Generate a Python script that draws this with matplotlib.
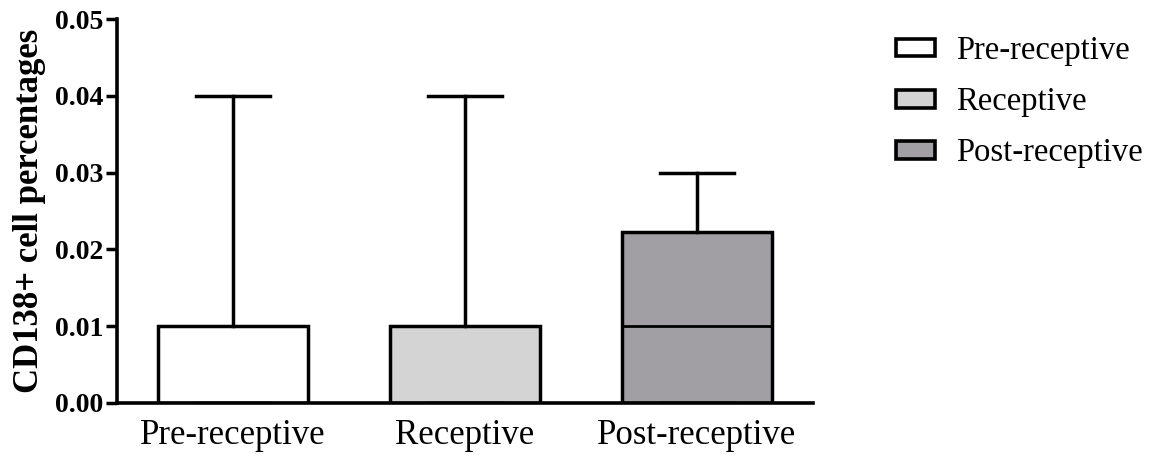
import matplotlib
matplotlib.use("Agg")
import matplotlib.pyplot as plt
from matplotlib.patches import Patch

# box-plot summary values
groups = ["Pre-receptive", "Receptive", "Post-receptive"]
q1 = [0.0, 0.0, 0.0]
med = [0.01, 0.01, 0.01]
q3 = [0.01, 0.01, 0.0222]
whis_lo = [0.0, 0.0, 0.0]
whis_hi = [0.04, 0.04, 0.03]
colors = ["#ffffff", "#d4d4d4", "#a19fa4"]
y_ticks = [0.00, 0.01, 0.02, 0.03, 0.04, 0.05]

plt.rcParams['font.family'] = ['Liberation Serif', 'DejaVu Serif']

fig = plt.figure(figsize=(11.58, 4.59), dpi=100)
ax = fig.add_axes([0.101, 0.1227, 0.601, 0.8353])

stats = []
for i, g in enumerate(groups):
    stats.append(dict(label=g, q1=q1[i], med=med[i], q3=q3[i],
                      whislo=whis_lo[i], whishi=whis_hi[i], fliers=[]))

bp = ax.bxp(stats, positions=range(len(groups)), widths=0.65, patch_artist=True,
            showfliers=False, capwidths=0.32,
            boxprops=dict(linewidth=2.5, edgecolor='black'),
            medianprops=dict(color='black', linewidth=2.0),
            whiskerprops=dict(color='black', linewidth=2.5),
            capprops=dict(color='black', linewidth=2.5))
for patch, c in zip(bp['boxes'], colors):
    patch.set_facecolor(c)

ax.set_xlim(-0.5, 2.5)
ax.set_ylim(0, 0.05)
ax.set_yticks(y_ticks)
ax.set_yticklabels(["%.2f" % t for t in y_ticks], fontweight='bold', fontsize=20)
ax.set_xticks(range(len(groups)))
ax.set_xticklabels(groups, fontsize=25)
ax.tick_params(axis='y', direction='out', length=8, width=2.5, pad=2)
ax.tick_params(axis='x', length=0, pad=12)
ax.set_ylabel("CD138+ cell percentages", fontsize=25, fontweight='bold', labelpad=6)

for s in ['top', 'right']:
    ax.spines[s].set_visible(False)
for s in ['left', 'bottom']:
    ax.spines[s].set_linewidth(2.6)

handles = [Patch(facecolor=c, edgecolor='black', linewidth=2.6) for c in colors]
fig.legend(handles, groups, loc='upper left', bbox_to_anchor=(0.748, 0.986),
           frameon=False, fontsize=23.5, handlelength=1.2, handleheight=0.45,
           handletextpad=0.65, labelspacing=0.63)

fig.savefig("out.png", dpi=100)
